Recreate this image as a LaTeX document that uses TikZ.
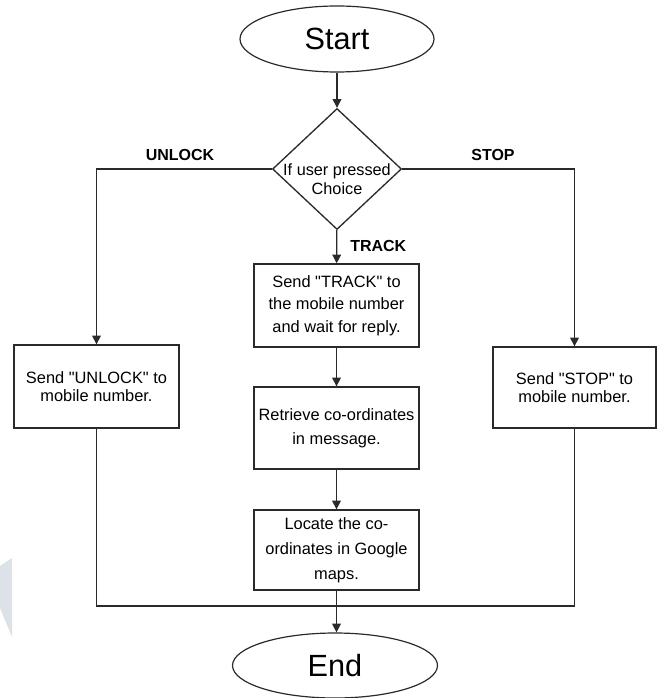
\documentclass[tikz,border=0pt]{standalone}
\usepackage{fontspec}
\setmainfont{Liberation Sans}[Ligatures=TeXOff]
\usetikzlibrary{shapes.geometric,arrows.meta}
\definecolor{wm}{HTML}{DDE2E8}
\definecolor{ln}{HTML}{2A2A2A}
\begin{document}
\begin{tikzpicture}[x=0.75pt,y=-0.75pt,
  flow/.style={draw=ln, line width=1pt, -{Triangle[length=6.5pt,width=6.5pt]}},
  link/.style={draw=ln, line width=1pt},
  term/.style={ellipse, draw=ln, line width=0.9pt, inner sep=0pt, font=\fontsize{23}{26}\selectfont},
  proc/.style={rectangle, draw=ln, line width=1pt, inner sep=0pt, align=center,
    minimum width=123.75pt},
  lab/.style={font=\bfseries\fontsize{12}{14}\selectfont, inner sep=0pt}
]
\useasboundingbox (0,0) rectangle (657,698);
% faint watermark shape
\fill[wm] (0,566) -- (12,558) -- (12,637) -- (0,608) -- cycle;

\node[term, minimum width=145.5pt, minimum height=49.5pt] (start) at (337,39) {Start};
\node[diamond, draw=ln, line width=1pt, inner sep=0pt, minimum width=96.75pt, minimum height=90.75pt] (dec) at (337,169) {};
\node[align=center, inner sep=0pt, font=\fontsize{12.2}{14.3}\selectfont] (dectext) at (337,179) {If user pressed\\Choice};

\node[proc, minimum height=62.25pt, font=\fontsize{12.3}{16.9}\selectfont] (track) at (336.5,305.5)
  {Send "TRACK" to\\the mobile number\\and wait for reply.};
\node[proc, minimum height=61.5pt, font=\fontsize{12.3}{18}\selectfont] (retr) at (336.5,428)
  {Retrieve co-ordinates\\in message.};
\node[proc, minimum height=60pt, font=\fontsize{12.3}{18.75}\selectfont] (loc) at (336.5,550)
  {Locate the co-\\ordinates in Google\\maps.};

\node[proc, minimum height=62.25pt, font=\fontsize{12.3}{14}\selectfont] (unlock) at (96.5,386.5)
  {Send "UNLOCK" to\\mobile number.};
\node[proc, minimum width=122.25pt, minimum height=60.75pt, font=\fontsize{12.3}{14}\selectfont] (stopbox) at (574.5,387.5)
  {Send "STOP" to\\mobile number.};

\node[term, minimum width=153.75pt, minimum height=48.75pt] (end) at (335,665.5) {End};

\node[lab] (unlocklab) at (180,155) {UNLOCK};
\node[lab] (stoplab) at (493,155) {STOP};
\node[lab, anchor=west] (tracklab) at (350,246) {TRACK};

\draw[flow] (start) -- (dec);
\draw[flow] (dec) -- (track);
\draw[flow] (dec.west) -| (unlock.north);
\draw[flow] (dec.east) -| (stopbox.north);
\draw[flow] (track) -- (retr);
\draw[flow] (retr) -- (loc);
\draw[link] (unlock.south) |- (stopbox.south |- 0,606) -- (stopbox.south);
\draw[flow] (loc.south) -- (loc.south |- end.north);
\end{tikzpicture}
\end{document}
